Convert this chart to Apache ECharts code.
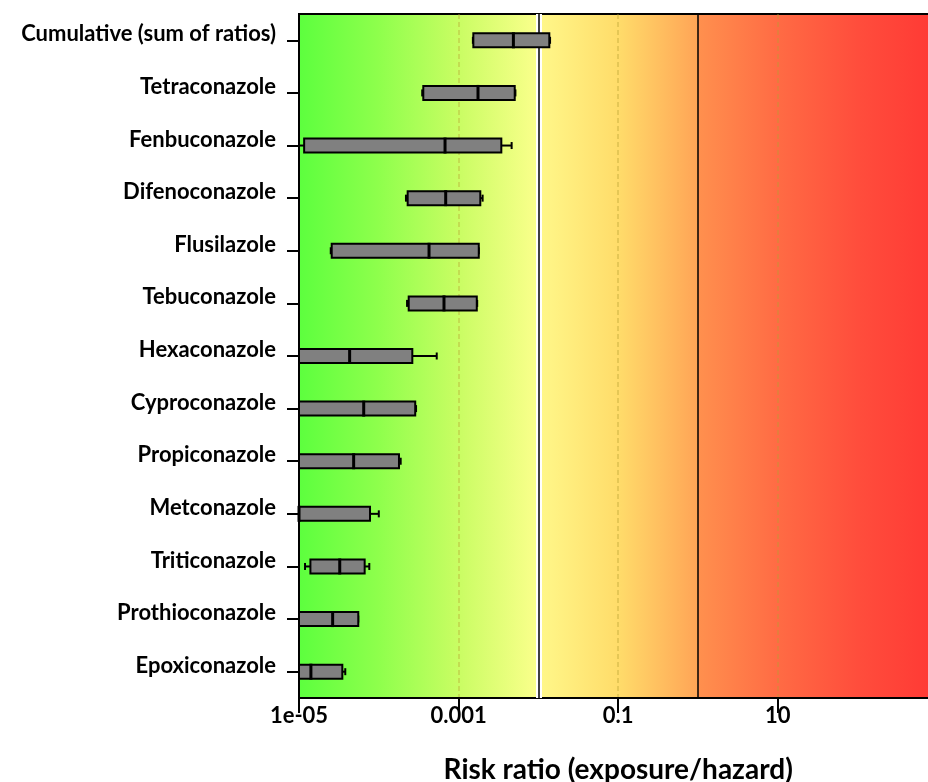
<!DOCTYPE html>
<html>
<head>
<meta charset="utf-8">
<script src="https://cdn.jsdelivr.net/npm/echarts@6/dist/echarts.min.js"></script>
<style>
  html, body { margin: 0; padding: 0; background: #ffffff; }
  #chart { width: 928px; height: 782px; }
</style>
</head>
<body>
<div id="chart"></div>
<script>
// Compounds, listed top to bottom
const categories = [
  'Cumulative (sum of ratios)', 'Tetraconazole', 'Fenbuconazole', 'Difenoconazole',
  'Flusilazole', 'Tebuconazole', 'Hexaconazole', 'Cyproconazole', 'Propiconazole',
  'Metconazole', 'Triticonazole', 'Prothioconazole', 'Epoxiconazole'
];

// Risk ratio distribution per compound (exposure/hazard)
const lowWhisker  = [1.51e-3, 3.50e-4, 1.00e-5, 2.19e-4, 2.50e-5, 2.26e-4, 1.00e-5, 1.00e-5, 1.00e-5, 1.00e-5, 1.19e-5, 1.00e-5, 1.00e-5];
const lowerQuart  = [1.53e-3, 3.61e-4, 1.16e-5, 2.30e-4, 2.57e-5, 2.37e-4, 1.00e-5, 1.00e-5, 1.00e-5, 1.00e-5, 1.39e-5, 1.00e-5, 1.00e-5];
const medians     = [4.86e-3, 1.75e-3, 6.76e-4, 6.89e-4, 4.26e-4, 6.56e-4, 4.31e-5, 6.47e-5, 4.84e-5, 1.00e-5, 3.24e-5, 2.64e-5, 1.41e-5];
const upperQuart  = [1.37e-2, 5.05e-3, 3.43e-3, 1.87e-3, 1.79e-3, 1.69e-3, 2.63e-4, 2.86e-4, 1.79e-4, 7.76e-5, 6.65e-5, 5.53e-5, 3.49e-5];
const highWhisker = [1.40e-2, 5.15e-3, 4.62e-3, 2.00e-3, 1.79e-3, 1.71e-3, 5.32e-4, 2.93e-4, 1.88e-4, 1.00e-4, 7.60e-5, 5.53e-5, 3.80e-5];

// Risk thresholds
const thresholds = [0.01, 1];

// Axis range and tick labels
const xMin = 1e-5;
const xMax = 1e3;
const tickExponents = [-5, -3, -1, 1];
const tickLabels = ['1e-05', '0.001', '0.1', '10'];

const boxData = categories.map((c, i) => [
  i, lowWhisker[i], lowerQuart[i], medians[i], upperQuart[i], highWhisker[i]
]);

const FONT = 'Lato';

function renderBox(params, api) {
  const cat = api.value(0);
  const pt = v => api.coord([v, cat]);
  const pLow = pt(api.value(1));
  const pQ1 = pt(api.value(2));
  const pMed = pt(api.value(3));
  const pQ3 = pt(api.value(4));
  const pHigh = pt(api.value(5));
  const yc = pQ1[1];
  const half = 7;
  const capHalf = 3.5;
  const stroke = { stroke: '#000', lineWidth: 2 };
  return {
    type: 'group',
    children: [
      { type: 'line', shape: { x1: pLow[0], y1: yc, x2: pQ1[0], y2: yc }, style: stroke },
      { type: 'line', shape: { x1: pQ3[0], y1: yc, x2: pHigh[0], y2: yc }, style: stroke },
      { type: 'line', shape: { x1: pLow[0], y1: yc - capHalf, x2: pLow[0], y2: yc + capHalf }, style: stroke },
      { type: 'line', shape: { x1: pHigh[0], y1: yc - capHalf, x2: pHigh[0], y2: yc + capHalf }, style: stroke },
      {
        type: 'rect',
        shape: { x: pQ1[0], y: yc - half, width: pQ3[0] - pQ1[0], height: half * 2 },
        style: { fill: '#808080', stroke: '#000', lineWidth: 2 }
      },
      {
        type: 'rect',
        shape: { x: pMed[0] - 1.5, y: yc - half - 1, width: 3, height: half * 2 + 2 },
        style: { fill: '#000' }
      }
    ]
  };
}

const chart = echarts.init(document.getElementById('chart'), null, { renderer: 'canvas' });

chart.setOption({
  animation: false,
  backgroundColor: '#ffffff',
  grid: {
    left: 299,
    top: 14,
    width: 638.4,
    height: 684,
    outerBoundsMode: 'none',
    containLabel: false,
    show: true,
    borderColor: '#000',
    borderWidth: 2,
    backgroundColor: new echarts.graphic.LinearGradient(0, 0, 1, 0, [
      { offset: 0.0, color: '#5cff3e' },
      { offset: 0.125, color: '#8eff4c' },
      { offset: 0.25, color: '#c9fd63' },
      { offset: 0.375, color: '#fbff8c' },
      { offset: 0.375, color: '#fff88a' },
      { offset: 0.5, color: '#ffdc6a' },
      { offset: 0.625, color: '#ffa456' },
      { offset: 0.625, color: '#ff904e' },
      { offset: 0.75, color: '#ff6b44' },
      { offset: 0.875, color: '#ff4d3c' },
      { offset: 1.0, color: '#ff3834' }
    ])
  },
  xAxis: {
    type: 'log',
    logBase: 10,
    min: xMin,
    max: xMax,
    interval: 2,
    name: 'Risk ratio (exposure/hazard)',
    nameLocation: 'middle',
    nameGap: 58,
    nameTextStyle: { fontFamily: FONT, fontWeight: 'bold', fontSize: 28, color: '#000' },
    axisLine: { show: true, lineStyle: { color: '#000', width: 2 } },
    axisTick: { show: true, length: 15, lineStyle: { color: '#000', width: 2 } },
    axisLabel: {
      margin: 7,
      fontFamily: FONT,
      fontWeight: 'bold',
      fontSize: 22,
      color: '#000',
      showMaxLabel: false,
      formatter: v => {
        const k = tickExponents.indexOf(Math.round(Math.log10(v)));
        return k >= 0 ? tickLabels[k] : '';
      }
    },
    splitLine: {
      show: true,
      lineStyle: { color: 'rgba(180,160,50,0.35)', width: 2, type: [5, 3] }
    }
  },
  yAxis: {
    type: 'category',
    data: categories,
    inverse: true,
    axisLine: { show: true, lineStyle: { color: '#000', width: 2 } },
    axisTick: { show: true, alignWithLabel: true, length: 12, lineStyle: { color: '#000', width: 2 } },
    axisLabel: {
      margin: 23,
      fontFamily: FONT,
      fontWeight: 'bold',
      fontSize: 22,
      color: '#000',
      verticalAlign: 'bottom',
      lineHeight: 12
    },
    splitLine: { show: false }
  },
  series: [
    {
      // threshold lines sit beneath the boxes
      type: 'scatter',
      data: [],
      z: 1,
      markLine: {
        silent: true,
        symbol: 'none',
        label: { show: false },
        animation: false,
        data: [
          { xAxis: thresholds[0], lineStyle: { color: '#ffffff', width: 6, type: 'solid' } },
          { xAxis: thresholds[0], lineStyle: { color: '#000000', width: 1.5, type: 'solid' } },
          { xAxis: thresholds[1], lineStyle: { color: '#000000', width: 1.5, type: 'solid' } }
        ]
      }
    },
    {
      type: 'custom',
      z: 5,
      renderItem: renderBox,
      encode: { x: [1, 2, 3, 4, 5], y: 0 },
      data: boxData
    }
  ]
});
</script>
</body>
</html>
